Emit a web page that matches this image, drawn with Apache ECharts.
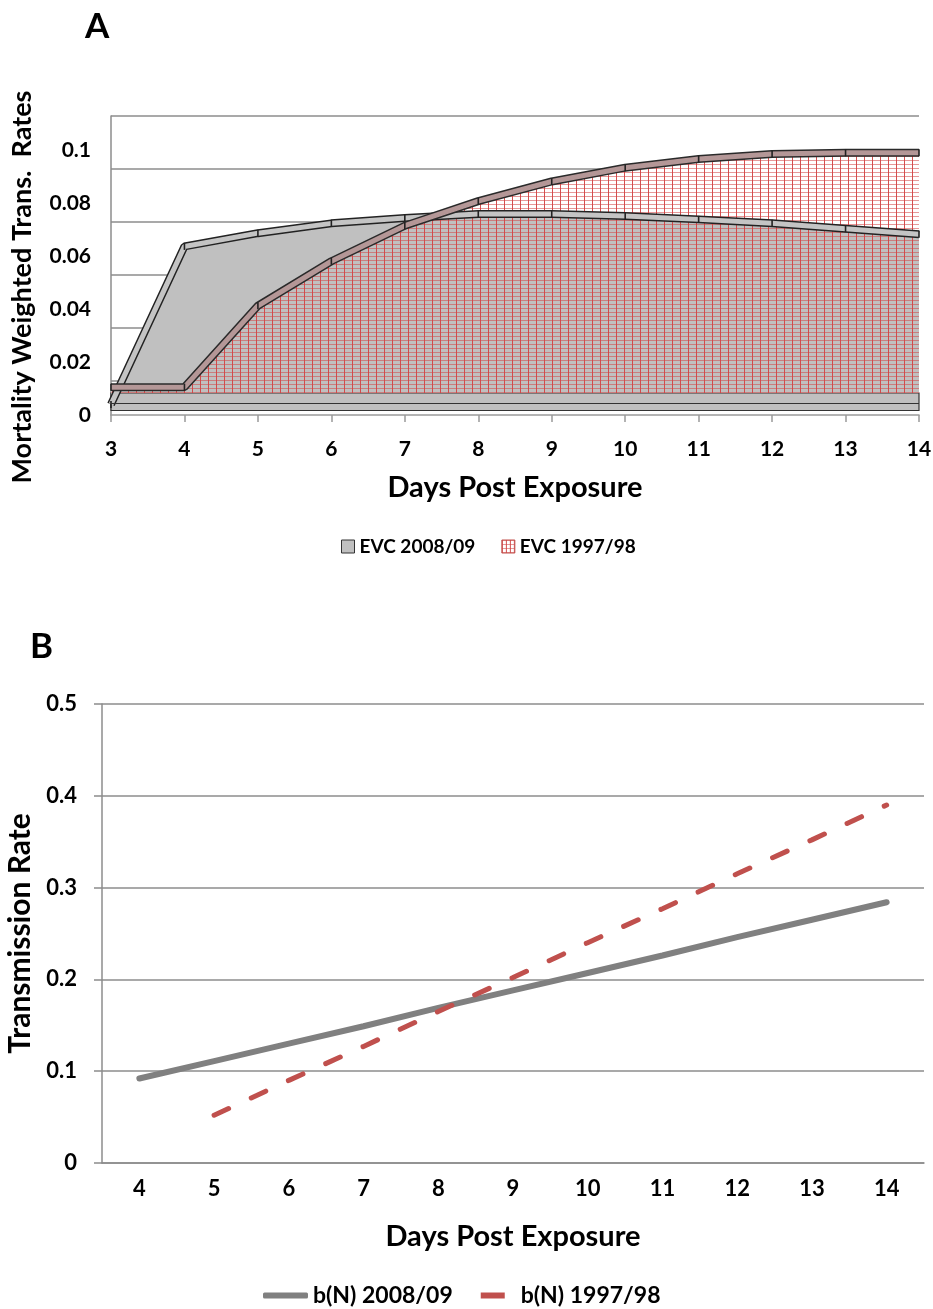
<!DOCTYPE html>
<html>
<head>
<meta charset="utf-8">
<script src="https://cdn.jsdelivr.net/npm/echarts@6.0.0/dist/echarts.min.js"></script>
<style>
  html, body { margin: 0; padding: 0; background: #fff; }
  #chart { width: 933px; height: 1309px; }
</style>
</head>
<body>
<div id="chart"></div>
<script>
const daysA = ['3', '4', '5', '6', '7', '8', '9', '10', '11', '12', '13', '14']
const evc0809 = [0.004, 0.0636, 0.0686, 0.0723, 0.0743, 0.0758, 0.0758, 0.0751, 0.0738, 0.0723, 0.0703, 0.0682]
const evc9798 = [0.0105, 0.0105, 0.0412, 0.058, 0.0714, 0.0807, 0.0881, 0.0933, 0.0966, 0.0985, 0.0989, 0.0989]
const ticksA = [0, 0.02, 0.04, 0.06, 0.08, 0.1]

const daysB = ['4', '5', '6', '7', '8', '9', '10', '11', '12', '13', '14']
const bN0809 = [0.092, 0.111, 0.130, 0.149, 0.169, 0.188, 0.207, 0.226, 0.246, 0.265, 0.284]
const bN9798 = [null, 0.052, 0.090, 0.127, 0.165, 0.202, 0.240, 0.277, 0.315, 0.352, 0.390]

const FONT = 'Lato, "Open Sans", sans-serif'
const FLOOR = 0.0083

// red grid fill used by the 1997/98 area
const makeHatch = (w, h, bg) => {
  const c = document.createElement('canvas')
  c.width = w
  c.height = h
  const ctx = c.getContext('2d')
  if (bg) {
    ctx.fillStyle = bg
    ctx.fillRect(0, 0, w, h)
  }
  ctx.fillStyle = 'rgba(210, 70, 70, 0.55)'
  ctx.fillRect(0, 0, w, 1)
  ctx.fillStyle = 'rgba(210, 70, 70, 0.95)'
  ctx.fillRect(0, 0, 1, h)
  return c
}
const hatch = makeHatch(8, 4)
const legendHatch = makeHatch(4, 4, '#ffffff')

const chart = echarts.init(document.getElementById('chart'), null, { renderer: 'canvas' })

const labelStyle = { color: '#000', fontFamily: FONT, fontWeight: 'bold' }

chart.setOption({
  animation: false,
  backgroundColor: '#fff',
  title: [
    { text: 'A', left: 80, top: 4, textStyle: { ...labelStyle, fontSize: 35 } },
    { text: 'B', left: 25, top: 624, textStyle: { ...labelStyle, fontSize: 35 } }
  ],
  graphic: [
    {
      type: 'text',
      x: 22,
      y: 287,
      rotation: Math.PI / 2,
      style: {
        text: 'Mortality Weighted Trans.  Rates',
        font: 'bold 27px ' + FONT,
        fill: '#000',
        align: 'center',
        verticalAlign: 'middle'
      }
    }
  ],
  legend: [
    {
      left: 336,
      top: 532,
      itemWidth: 13,
      itemHeight: 13,
      itemGap: 26,
      textStyle: { ...labelStyle, fontSize: 19 },
      data: [
        { name: 'EVC 2008/09', icon: 'rect', itemStyle: { color: '#c0c0c0', borderColor: '#333', borderWidth: 1 } },
        { name: 'EVC 1997/98', icon: 'rect', itemStyle: { color: { image: legendHatch, repeat: 'repeat' }, borderColor: '#c0504d', borderWidth: 1 } }
      ]
    },
    {
      left: 258,
      top: 1279,
      itemWidth: 45,
      itemHeight: 6,
      itemGap: 18,
      textStyle: { ...labelStyle, fontSize: 23 },
      data: [
        { name: 'b(N) 2008/09', icon: 'roundRect', itemStyle: { color: '#808080' } },
        { name: 'b(N) 1997/98', icon: 'path://M0,3 L0,3 M45,3 L45,3 M10,0 L34,0 L34,6 L10,6 Z', itemStyle: { color: '#c0504d' } }
      ]
    }
  ],
  grid: [
    { left: 111, right: 14, top: 116, height: 299, containLabel: false, outerBoundsMode: 'none' },
    { left: 111, right: 14, top: 116, height: 265, containLabel: false, outerBoundsMode: 'none' },
    { left: 102, right: 9, top: 704, bottom: 146, containLabel: false, outerBoundsMode: 'none' }
  ],
  xAxis: [
    {
      gridIndex: 0,
      type: 'category',
      data: daysA,
      boundaryGap: false,
      name: 'Days Post Exposure',
      nameLocation: 'middle',
      nameGap: 58,
      nameTextStyle: { ...labelStyle, fontSize: 29 },
      axisLine: { lineStyle: { color: '#9a9a9a', width: 1.5 } },
      axisTick: { length: 7, lineStyle: { color: '#9a9a9a', width: 1.5 } },
      axisLabel: { ...labelStyle, fontSize: 21, margin: 24 },
      splitLine: { show: false }
    },
    {
      gridIndex: 1,
      type: 'category',
      data: daysA,
      boundaryGap: false,
      show: false
    },
    {
      gridIndex: 2,
      type: 'category',
      data: daysB,
      boundaryGap: true,
      name: 'Days Post Exposure',
      nameLocation: 'middle',
      nameGap: 59,
      nameTextStyle: { ...labelStyle, fontSize: 29 },
      axisLine: { lineStyle: { color: '#8c8c8c', width: 1.5 } },
      axisTick: { length: 8, lineStyle: { color: '#8c8c8c', width: 1.5 } },
      axisLabel: { ...labelStyle, fontSize: 22, margin: 15 },
      splitLine: { show: false }
    }
  ],
  yAxis: [
    {
      gridIndex: 0,
      type: 'value',
      min: 0,
      max: 0.1128,
      interval: 0.02,
      axisLine: { show: true, lineStyle: { color: '#8c8c8c', width: 1.5 } },
      axisTick: { show: false },
      axisLabel: {
        ...labelStyle,
        fontSize: 21,
        margin: 20,
        formatter: v => (ticksA.some(t => Math.abs(t - v) < 1e-9) ? String(+v.toFixed(2)) : '')
      },
      splitLine: { show: false }
    },
    {
      gridIndex: 1,
      type: 'value',
      min: 0.02,
      max: 0.12,
      interval: 0.02,
      axisLine: { show: false },
      axisTick: { show: false },
      axisLabel: { show: false },
      splitLine: { show: true, lineStyle: { color: '#8c8c8c', width: 1.5 } }
    },
    {
      gridIndex: 2,
      type: 'value',
      min: 0,
      max: 0.5,
      interval: 0.1,
      name: 'Transmission Rate',
      nameLocation: 'middle',
      nameGap: 62,
      nameTextStyle: { ...labelStyle, fontSize: 30 },
      axisLine: { show: true, lineStyle: { color: '#8c8c8c', width: 1.5 } },
      axisTick: { show: true, length: 8, lineStyle: { color: '#8c8c8c', width: 1.5 } },
      axisLabel: { ...labelStyle, fontSize: 22, margin: 25 },
      splitLine: { show: true, lineStyle: { color: '#8c8c8c', width: 1.5 } }
    }
  ],
  series: [
    {
      name: 'EVC 1997/98 base',
      type: 'line',
      xAxisIndex: 0,
      yAxisIndex: 0,
      data: evc9798,
      symbol: 'none',
      silent: true,
      z: 1,
      lineStyle: { opacity: 0 },
      areaStyle: { color: '#ffffff', opacity: 1, origin: FLOOR }
    },
    {
      name: 'EVC 2008/09',
      type: 'line',
      xAxisIndex: 0,
      yAxisIndex: 0,
      data: evc0809,
      symbol: 'none',
      z: 2,
      itemStyle: { color: '#c0c0c0' },
      lineStyle: { opacity: 0 },
      areaStyle: { color: '#c0c0c0', opacity: 1, origin: FLOOR },
      markArea: {
        silent: true,
        itemStyle: { color: '#c0c0c0', borderColor: '#333', borderWidth: 1.2 },
        data: [[{ xAxis: '3', yAxis: 0.0017 }, { xAxis: '14', yAxis: FLOOR }]]
      },
      markLine: {
        silent: true,
        symbol: 'none',
        label: { show: false },
        lineStyle: { color: '#333', width: 1.2, type: 'solid' },
        data: [[{ xAxis: '3', yAxis: 0.0046 }, { xAxis: '14', yAxis: 0.0046 }]]
      }
    },
    {
      name: 'EVC 1997/98',
      type: 'line',
      xAxisIndex: 0,
      yAxisIndex: 0,
      data: evc9798,
      symbol: 'none',
      z: 3,
      itemStyle: { color: '#c0504d' },
      lineStyle: { opacity: 0 },
      areaStyle: { color: { image: hatch, repeat: 'repeat' }, opacity: 1, origin: FLOOR }
    },
    {
      name: 'EVC 2008/09 edge casing',
      type: 'line',
      xAxisIndex: 0,
      yAxisIndex: 0,
      data: evc0809,
      symbol: 'none',
      silent: true,
      z: 4,
      lineStyle: { color: '#222', width: 8 }
    },
    {
      name: 'EVC 2008/09 edge',
      type: 'line',
      xAxisIndex: 0,
      yAxisIndex: 0,
      data: evc0809,
      symbol: 'rect',
      symbolSize: [1.6, 7],
      silent: true,
      z: 4,
      itemStyle: { color: '#222' },
      lineStyle: { color: '#c4c4c4', width: 5 }
    },
    {
      name: 'EVC 1997/98 edge casing',
      type: 'line',
      xAxisIndex: 0,
      yAxisIndex: 0,
      data: evc9798,
      symbol: 'none',
      silent: true,
      z: 5,
      lineStyle: { color: '#2a2a2a', width: 8 }
    },
    {
      name: 'EVC 1997/98 edge',
      type: 'line',
      xAxisIndex: 0,
      yAxisIndex: 0,
      data: evc9798,
      symbol: 'rect',
      symbolSize: [1.6, 7],
      silent: true,
      z: 5,
      itemStyle: { color: '#222' },
      lineStyle: { color: '#b49797', width: 5 }
    },
    {
      name: 'b(N) 2008/09',
      type: 'line',
      xAxisIndex: 2,
      yAxisIndex: 2,
      data: bN0809,
      symbol: 'none',
      itemStyle: { color: '#808080' },
      lineStyle: { color: '#808080', width: 6, cap: 'round' }
    },
    {
      name: 'b(N) 1997/98',
      type: 'line',
      xAxisIndex: 2,
      yAxisIndex: 2,
      data: bN9798,
      symbol: 'none',
      itemStyle: { color: '#c0504d' },
      lineStyle: { color: '#c0504d', width: 5, type: [16, 25], cap: 'round' }
    }
  ]
})
</script>
</body>
</html>
